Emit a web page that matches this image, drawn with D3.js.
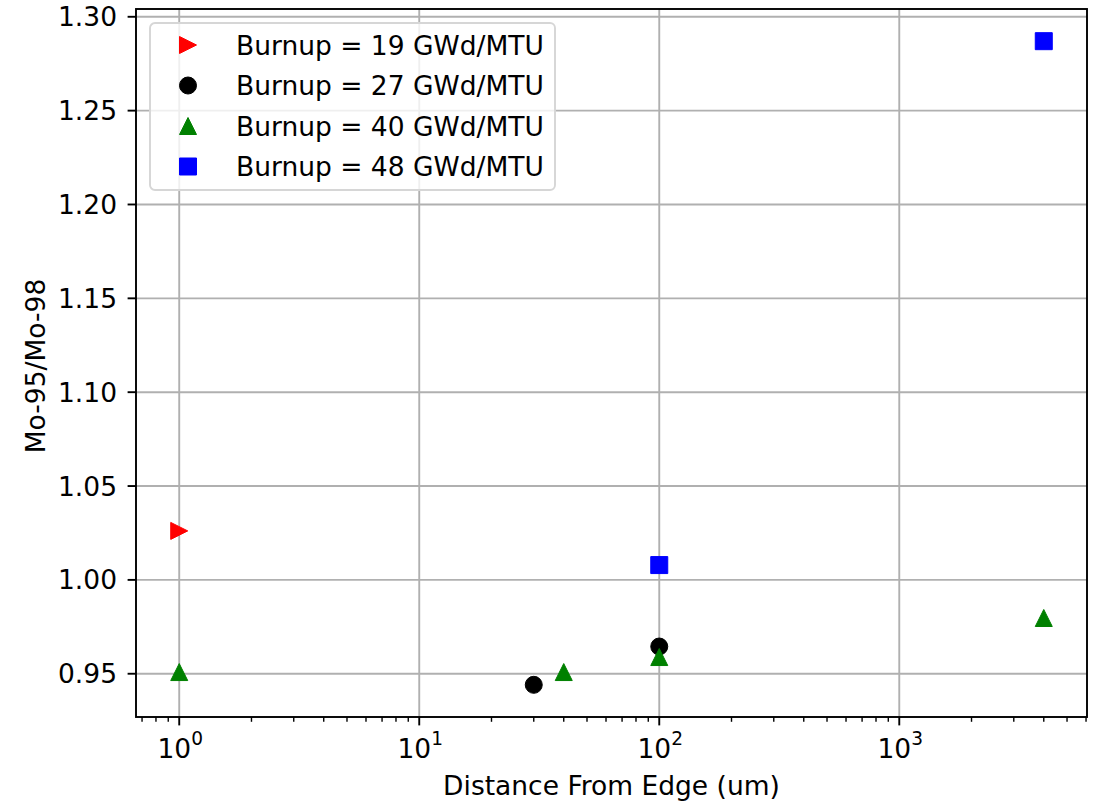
<!DOCTYPE html>
<html>
<head>
<meta charset="utf-8">
<script src="https://cdn.jsdelivr.net/npm/d3@7"></script>
<style>
  body { margin: 0; background: #fff; }
  text { font-family: "DejaVu Sans", sans-serif; fill: #000; }
</style>
</head>
<body>
<svg id="chart" width="1099" height="802"></svg>
<script>
// series data
const labels = ["Burnup = 19 GWd/MTU", "Burnup = 27 GWd/MTU", "Burnup = 40 GWd/MTU", "Burnup = 48 GWd/MTU"]
const colors = ["#ff0000", "#000000", "#008000", "#0000ff"]
const shapes = ["triRight", "circle", "triUp", "square"]

const x19 = [1]
const y19 = [1.0261]
const x27 = [30, 100]
const y27 = [0.9441, 0.9645]
const x40 = [1, 40, 100, 4000]
const y40 = [0.9509, 0.9509, 0.9589, 0.9797]
const x48 = [100, 4000]
const y48 = [1.0079, 1.2870]

const yTicks = [0.95, 1.00, 1.05, 1.10, 1.15, 1.20, 1.25, 1.30]
const xMajor = [1, 10, 100, 1000]
const xExp = ["0", "1", "2", "3"]

const xs = [x19, x27, x40, x48]
const ys = [y19, y27, y40, y48]

var margin = {left: 136, right: 1087, top: 9, bottom: 717}
var fs = 26.5
var ms = 18

var svg = d3.select("#chart")

// log axis with matplotlib-like 5% margins
var allX = [].concat(...xs), allY = [].concat(...ys)
var lx0 = Math.log10(d3.min(allX)), lx1 = Math.log10(d3.max(allX))
var px = (lx1 - lx0) * 0.05
var xScale = d3.scaleLog()
    .domain([Math.pow(10, lx0 - px), Math.pow(10, lx1 + px)])
    .range([margin.left, margin.right])

var y0 = d3.min(allY), y1 = d3.max(allY)
var py = (y1 - y0) * 0.05
var yScale = d3.scaleLinear()
    .domain([y0 - py, y1 + py])
    .range([margin.bottom, margin.top])

var minorTicks = []
for (var d = 0.1; d < 1e4; d *= 10) {
    for (var k = 2; k <= 9; k++) {
        var v = d * k
        if (v >= xScale.domain()[0] && v <= xScale.domain()[1]) minorTicks.push(v)
    }
}

// grid
var grid = svg.append("g").attr("class", "grid")
grid.selectAll(".gx").data(xMajor).enter().append("line")
    .attr("x1", d => xScale(d)).attr("x2", d => xScale(d))
    .attr("y1", margin.top).attr("y2", margin.bottom)
    .attr("stroke", "#b0b0b0").attr("stroke-width", 1.9)
grid.selectAll(".gy").data(yTicks).enter().append("line")
    .attr("x1", margin.left).attr("x2", margin.right)
    .attr("y1", d => yScale(d)).attr("y2", d => yScale(d))
    .attr("stroke", "#b0b0b0").attr("stroke-width", 1.9)

// markers
function markerPath(shape, s) {
    var h = s / 2
    if (shape == "triRight") return "M" + h + ",0L" + (-h) + "," + (-h) + "L" + (-h) + "," + h + "Z"
    if (shape == "triUp") return "M0," + (-h) + "L" + (-h) + "," + h + "L" + h + "," + h + "Z"
    if (shape == "square") return "M" + (-h) + "," + (-h) + "h" + s + "v" + s + "h" + (-s) + "Z"
    return d3.arc()({innerRadius: 0, outerRadius: h, startAngle: 0, endAngle: 2 * Math.PI})
}

var pts = svg.append("g").attr("class", "points")
for (var i = 0; i < labels.length; i++) {
    var rows = xs[i].map((x, j) => [x, ys[i][j]])
    pts.append("g").selectAll("path").data(rows).enter().append("path")
        .attr("transform", d => "translate(" + xScale(d[0]) + "," + yScale(d[1]) + ")")
        .attr("d", markerPath(shapes[i], ms - 1))
        .attr("fill", colors[i])
        .attr("stroke", colors[i])
        .attr("stroke-width", 1)
}

// spines
svg.append("rect")
    .attr("x", margin.left).attr("y", margin.top)
    .attr("width", margin.right - margin.left).attr("height", margin.bottom - margin.top)
    .attr("fill", "none").attr("stroke", "#000").attr("stroke-width", 1.9)

// y ticks
var yAx = svg.append("g")
yAx.selectAll("line").data(yTicks).enter().append("line")
    .attr("x1", margin.left - 8.4).attr("x2", margin.left)
    .attr("y1", d => yScale(d)).attr("y2", d => yScale(d))
    .attr("stroke", "#000").attr("stroke-width", 1.9)
yAx.selectAll("text").data(yTicks).enter().append("text")
    .attr("x", margin.left - 19).attr("y", d => yScale(d))
    .attr("dy", "0.36em")
    .attr("text-anchor", "end")
    .attr("font-size", fs)
    .text(d => d.toFixed(2))

// x ticks
var xAx = svg.append("g")
xAx.selectAll(".mn").data(minorTicks).enter().append("line")
    .attr("x1", d => xScale(d)).attr("x2", d => xScale(d))
    .attr("y1", margin.bottom).attr("y2", margin.bottom + 4.8)
    .attr("stroke", "#000").attr("stroke-width", 1.4)
xAx.selectAll(".mj").data(xMajor).enter().append("line")
    .attr("x1", d => xScale(d)).attr("x2", d => xScale(d))
    .attr("y1", margin.bottom).attr("y2", margin.bottom + 8.4)
    .attr("stroke", "#000").attr("stroke-width", 1.9)
var xt = xAx.selectAll("text").data(xMajor).enter().append("text")
    .attr("x", d => xScale(d) + 1).attr("y", 758)
    .attr("text-anchor", "middle")
    .attr("font-size", fs)
xt.append("tspan").text("10")
xt.append("tspan").attr("dy", -13).attr("font-size", fs * 0.7).text((d, i) => xExp[i])

// axis labels
svg.append("text")
    .attr("x", (margin.left + margin.right) / 2).attr("y", 795)
    .attr("text-anchor", "middle").attr("font-size", fs)
    .text("Distance From Edge (um)")
svg.append("text")
    .attr("transform", "translate(45," + ((margin.top + margin.bottom) / 2 + 3) + ") rotate(-90)")
    .attr("text-anchor", "middle").attr("font-size", fs)
    .text("Mo-95/Mo-98")

// legend
var lg = svg.append("g").attr("transform", "translate(150,23)")
lg.append("rect")
    .attr("width", 405).attr("height", 167).attr("rx", 5)
    .attr("fill", "#fff").attr("fill-opacity", 0.8)
    .attr("stroke", "#d6d6d6").attr("stroke-width", 1.9)
var rowsG = lg.selectAll(".row").data(labels).enter().append("g")
    .attr("transform", (d, i) => "translate(0," + (22 + i * 40.5) + ")")
rowsG.append("path")
    .attr("transform", "translate(38,0)")
    .attr("d", (d, i) => markerPath(shapes[i], ms - 1))
    .attr("fill", (d, i) => colors[i])
    .attr("stroke", (d, i) => colors[i])
rowsG.append("text")
    .attr("x", 86).attr("dy", "0.36em")
    .attr("font-size", fs)
    .text(d => d)
</script>
</body>
</html>
